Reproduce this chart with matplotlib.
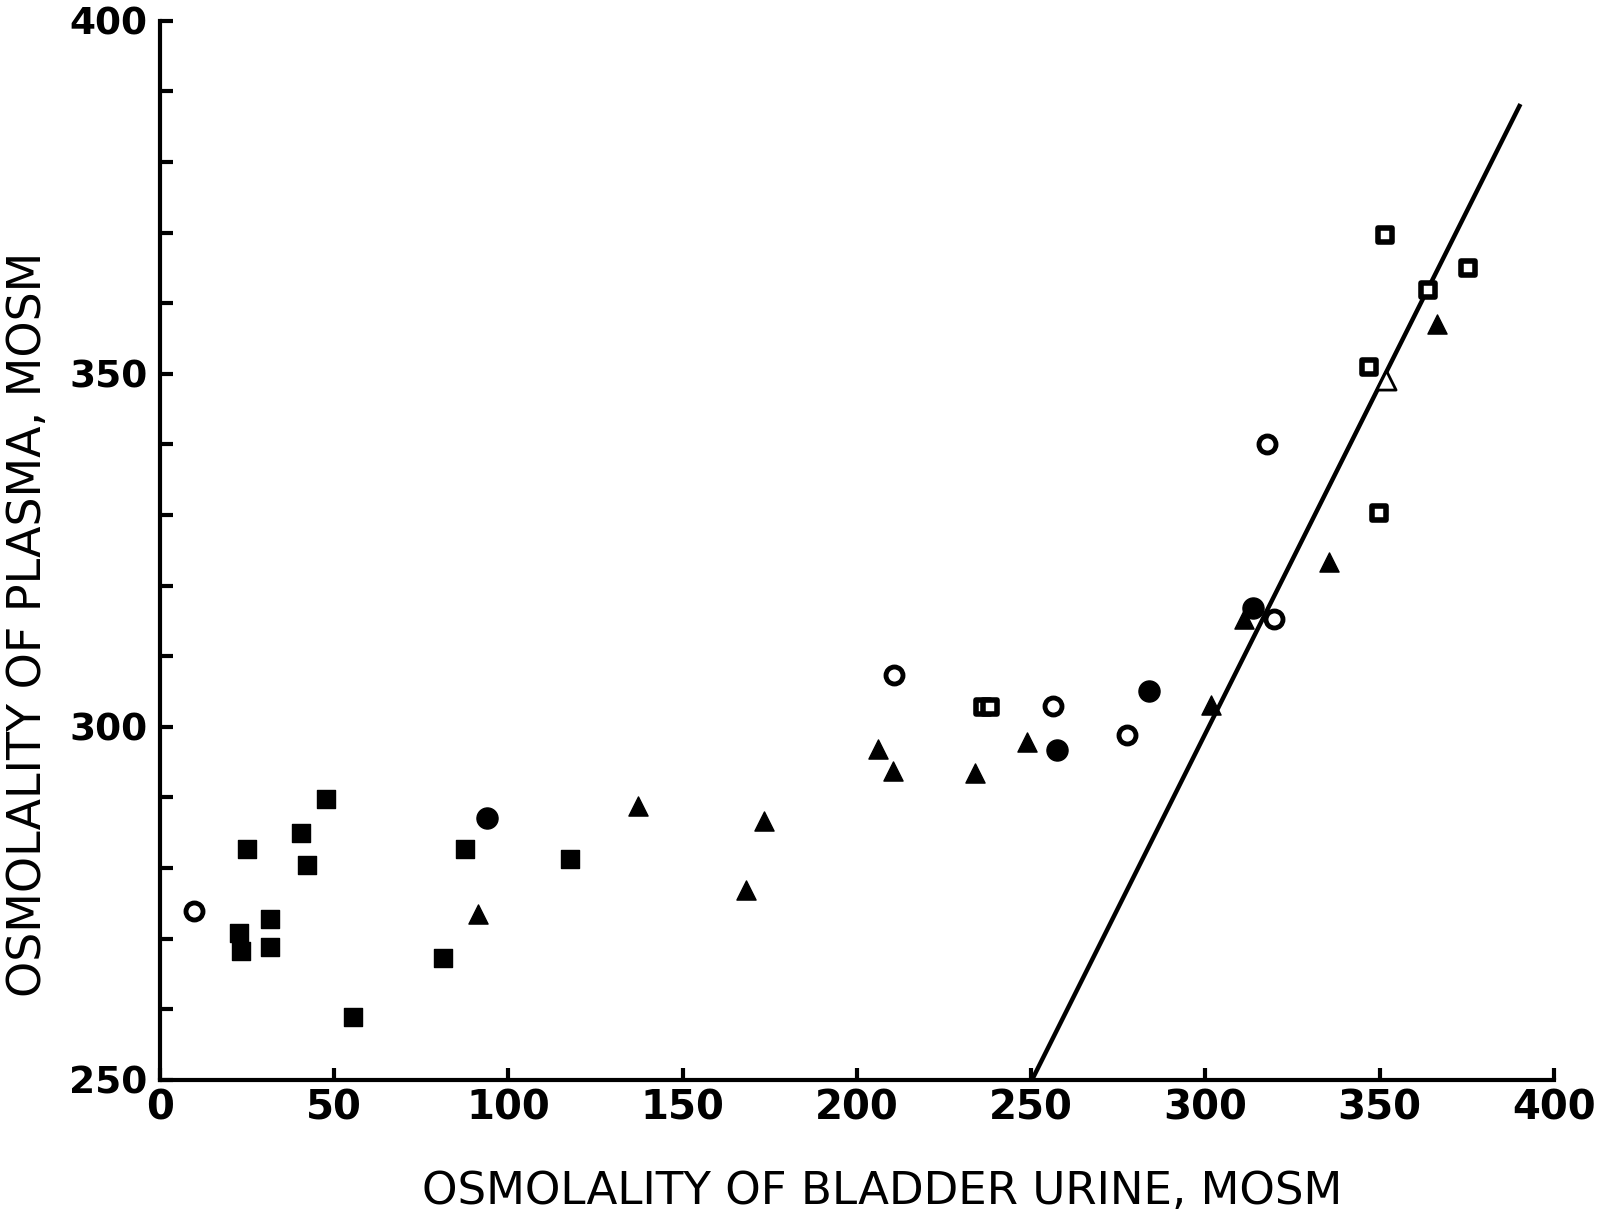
import numpy as np
import matplotlib.pyplot as plt

# urine osmolality (x) vs plasma osmolality (y), mOsm
sq_fill_x = [22.8, 23.4, 25.1, 31.6, 31.6, 40.4, 42.4, 47.7, 55.6, 81.3, 87.7, 117.8]
sq_fill_y = [270.8, 268.3, 282.7, 272.8, 268.8, 285.0, 280.4, 289.7, 258.9, 267.3, 282.7, 281.2]

sq_open_x = [236.3, 238.3, 347.0, 351.5, 364.0, 375.4, 349.7]
sq_open_y = [302.8, 302.8, 351.0, 369.6, 361.8, 365.0, 330.3]

tri_fill_x = [91.2, 137.1, 168.1, 173.4, 206.1, 210.5, 233.9, 248.8, 301.5, 311.0, 335.4, 366.4]
tri_fill_y = [273.5, 288.7, 276.8, 286.6, 296.9, 293.7, 293.4, 297.9, 303.1, 315.3, 323.3, 357.0]

tri_open_x = [351.8]
tri_open_y = [349.1]

circ_fill_x = [93.9, 257.3, 283.9, 313.7]
circ_fill_y = [287.1, 296.7, 305.0, 316.8]

circ_open_x = [9.9, 210.8, 256.4, 277.5, 317.8, 319.6]
circ_open_y = [273.9, 307.3, 302.9, 298.8, 340.1, 315.3]

# fitted line through the high-osmolality points
line_x = [250.3, 390.4]
line_y = [250.0, 388.2]

x_ticks = [0, 50, 100, 150, 200, 250, 300, 350, 400]
y_ticks = [250, 300, 350, 400]

fig = plt.figure(figsize=(15.97, 12.2), dpi=100)
ax = fig.add_axes([0.100, 0.115, 0.873, 0.868])

ax.plot(line_x, line_y, color='black', lw=3.2, zorder=2, solid_capstyle='butt')

ax.scatter(sq_fill_x, sq_fill_y, marker='s', s=165, color='black', zorder=3)
ax.scatter(sq_open_x, sq_open_y, marker='s', s=95, facecolor='white',
           edgecolor='black', linewidths=4, zorder=3)
ax.scatter(tri_fill_x, tri_fill_y, marker='^', s=190, color='black', zorder=3)
ax.scatter(tri_open_x, tri_open_y, marker='^', s=190, facecolor='white',
           edgecolor='black', linewidths=2, zorder=3)
ax.scatter(circ_fill_x, circ_fill_y, marker='o', s=230, color='black', zorder=3)
ax.scatter(circ_open_x, circ_open_y, marker='o', s=150, facecolor='white',
           edgecolor='black', linewidths=3.5, zorder=3)

ax.set_xlim(0, 400)
ax.set_ylim(250, 400)
ax.set_xticks(x_ticks)
ax.set_yticks(y_ticks)
ax.set_yticks(np.arange(250, 401, 10), minor=True)

for side in ['top', 'right']:
    ax.spines[side].set_visible(False)
for side in ['left', 'bottom']:
    ax.spines[side].set_linewidth(3)

ax.tick_params(axis='both', which='both', direction='in', width=3, length=9)
ax.tick_params(axis='x', which='major', labelsize=29, pad=6)
ax.tick_params(axis='y', which='major', labelsize=27, pad=9)
for lbl in ax.get_xticklabels() + ax.get_yticklabels():
    lbl.set_fontweight('bold')

ax.set_xlabel('OSMOLALITY OF BLADDER URINE, MOSM', fontsize=32.5)
ax.xaxis.set_label_coords(0.518, -0.085)
ax.set_ylabel('OSMOLALITY OF PLASMA, MOSM', fontsize=33)
ax.yaxis.set_label_coords(-0.078, 0.43)

fig.savefig('out.png', dpi=100)
